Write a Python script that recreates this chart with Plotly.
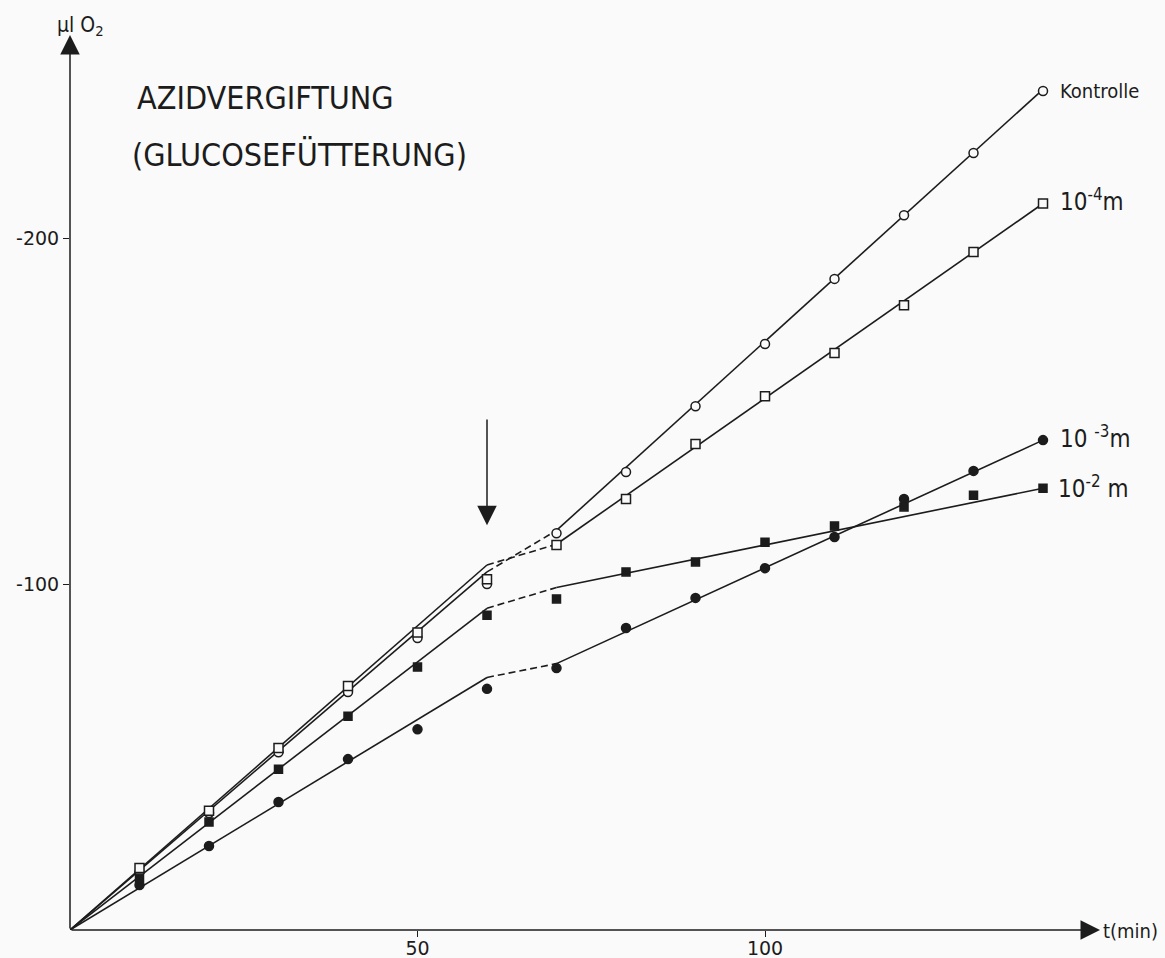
import plotly.graph_objects as go

# ---- data ----
t_points = [10, 20, 30, 40, 50, 60, 70, 80, 90, 100, 110, 120, 130, 140]

kontrolle = [16.8, 33.8, 51.4, 68.8, 84.4, 100.0, 114.7, 132.4, 151.4, 169.4, 188.2, 206.6, 224.6, 242.5]
azid_1e4 = [17.9, 34.5, 52.6, 70.5, 86.0, 101.4, 111.3, 124.6, 140.5, 154.3, 166.8, 180.6, 196.0, 210.0]
azid_1e3 = [13.0, 24.3, 37.0, 49.4, 58.0, 69.7, 75.7, 87.3, 96.0, 104.6, 113.6, 124.6, 132.7, 141.6]
azid_1e2 = [15.0, 31.2, 46.5, 61.8, 76.0, 91.0, 95.7, 103.5, 106.4, 112.1, 116.8, 122.3, 125.7, 127.7]

# fitted line nodes: t = 0, 60 (poison added), 70, 140
fit_t = [0, 60, 70, 140]
fit_kontrolle = [0, 103.5, 115.5, 243.0]
fit_1e4 = [0, 105.5, 111.5, 210.0]
fit_1e3 = [0, 73.0, 77.0, 141.6]
fit_1e2 = [0, 93.0, 99.0, 127.7]

y_ticks = [-100, -200]
y_tick_text = ["-100", "-200"]
x_ticks = [50, 100]
x_tick_text = ["50", "100"]

INK = "#1c1c1c"
BG = "#fafafa"
FONT = "DejaVu Sans Condensed, DejaVu Sans, sans-serif"
FONT_W = "DejaVu Sans, sans-serif"

fig = go.Figure()


def neg(vals):
    return [-v for v in vals]


def add_fit(t, v):
    # solid before poisoning, dashed transition, solid afterwards
    fig.add_trace(go.Scatter(x=t[0:2], y=neg(v[0:2]), mode="lines",
                             line=dict(color=INK, width=1.6), showlegend=False, hoverinfo="skip"))
    fig.add_trace(go.Scatter(x=t[1:3], y=neg(v[1:3]), mode="lines",
                             line=dict(color=INK, width=1.6, dash="7px,4px"), showlegend=False, hoverinfo="skip"))
    fig.add_trace(go.Scatter(x=t[2:4], y=neg(v[2:4]), mode="lines",
                             line=dict(color=INK, width=1.6), showlegend=False, hoverinfo="skip"))


for fv in (fit_kontrolle, fit_1e4, fit_1e3, fit_1e2):
    add_fit(fit_t, fv)

series = [
    ("Kontrolle", kontrolle, "circle", 9, BG),
    ("10^-4 m", azid_1e4, "square", 9, BG),
    ("10^-3 m", azid_1e3, "circle", 9, INK),
    ("10^-2 m", azid_1e2, "square", 8, INK),
]
for name, vals, sym, size, fill in series:
    fig.add_trace(go.Scatter(
        x=t_points, y=neg(vals), mode="markers", name=name, showlegend=False,
        marker=dict(symbol=sym, size=size, color=fill, line=dict(color=INK, width=1.5)),
    ))

X_MAX = 148.2
Y_MIN = -258.7
# plot area in pixels: left 70, right 1100, top 35, bottom 930


def px2paper(px, py):
    return (px - 70) / 1030.0, (930 - py) / 895.0


annotations = []
# axes drawn as arrows
annotations.append(dict(x=X_MAX, y=0, ax=0, ay=0, xref="x", yref="y", axref="x", ayref="y",
                        text="", showarrow=True, arrowhead=2, arrowsize=2.6, arrowwidth=1.5,
                        arrowcolor=INK, standoff=0, startstandoff=0))
annotations.append(dict(x=0, y=Y_MIN, ax=0, ay=0, xref="x", yref="y", axref="x", ayref="y",
                        text="", showarrow=True, arrowhead=2, arrowsize=2.6, arrowwidth=1.5,
                        arrowcolor=INK, standoff=0, startstandoff=0))
# poisoning arrow
annotations.append(dict(x=60, y=-117, ax=60, ay=-148, xref="x", yref="y", axref="x", ayref="y",
                        text="", showarrow=True, arrowhead=2, arrowsize=2.6, arrowwidth=1.5,
                        arrowcolor=INK, standoff=0))

# titles
annotations.append(dict(x=9.3, y=-240.5, xref="x", yref="y", xanchor="left", yanchor="middle",
                        text="AZIDVERGIFTUNG", showarrow=False,
                        font=dict(family=FONT, size=32, color=INK)))
annotations.append(dict(x=8.6, y=-224, xref="x", yref="y", xanchor="left", yanchor="middle",
                        text="(GLUCOSEFÜTTERUNG)", showarrow=False,
                        font=dict(family=FONT, size=32, color=INK)))

# axis titles (paper coordinates, outside the axis ranges)
ux, uy = px2paper(80, 26)
annotations.append(dict(x=ux, y=uy, xref="paper", yref="paper", xanchor="center", yanchor="middle",
                        text="μl O<sub>2</sub>", showarrow=False,
                        font=dict(family=FONT, size=21, color=INK)))
tx, ty = px2paper(1101, 931)
annotations.append(dict(x=tx, y=ty, xref="paper", yref="paper", xanchor="left", yanchor="middle",
                        text="t(min)", showarrow=False,
                        font=dict(family=FONT, size=20, color=INK)))

# series labels
labels = [
    ("Kontrolle", 142.2, -242.5, 20),
    ("10<sup>-4</sup>m", 142.2, -211, 24),
    ("10 <sup>-3</sup>m", 142.2, -142.5, 24),
    ("10<sup>-2</sup> m", 141.8, -128, 24),
]
for txt, x, y, fs in labels:
    annotations.append(dict(x=x, y=y, xref="x", yref="y", xanchor="left", yanchor="middle",
                            text=txt, showarrow=False,
                            font=dict(family=FONT, size=fs, color=INK)))

fig.update_layout(
    width=1165, height=958,
    margin=dict(l=70, r=65, t=35, b=28, pad=0),
    paper_bgcolor=BG, plot_bgcolor=BG,
    annotations=annotations,
    xaxis=dict(range=[0, X_MAX], showgrid=False, zeroline=False, showline=False,
               automargin=False,
               tickvals=x_ticks, ticktext=x_tick_text, ticks="outside", ticklen=6,
               tickwidth=1.3, tickcolor=INK, ticklabelstandoff=-5,
               tickfont=dict(family=FONT_W, size=19, color=INK)),
    yaxis=dict(range=[0, Y_MIN], showgrid=False, zeroline=False, showline=False,
               automargin=False,
               tickvals=y_ticks, ticktext=y_tick_text, ticks="outside", ticklen=6,
               tickwidth=1.3, tickcolor=INK,
               tickfont=dict(family=FONT_W, size=19, color=INK)),
)

fig.write_html("out.html")
